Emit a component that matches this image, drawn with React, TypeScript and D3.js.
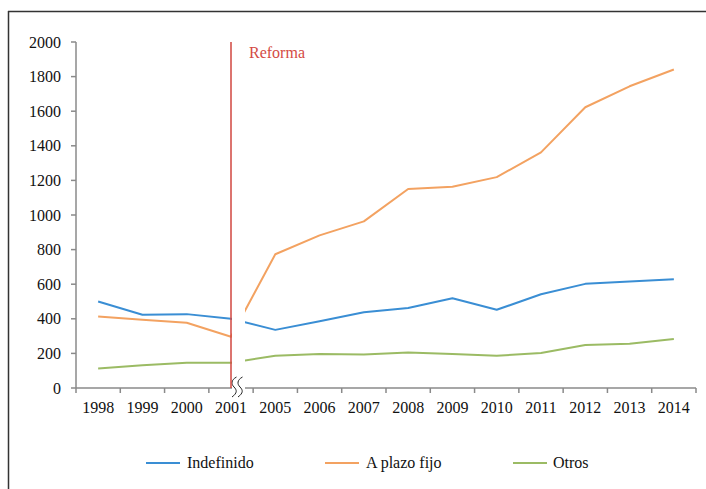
import React from "react";
import * as d3 from "d3";

const categories = ["1998", "1999", "2000", "2001", "2005", "2006", "2007", "2008", "2009", "2010", "2011", "2012", "2013", "2014"];
const indefinido = [500, 423, 427, 400, 336, 386, 438, 462, 519, 452, 542, 602, 615, 629];
const plazoFijo = [413, 394, 377, 296, 773, 882, 963, 1150, 1163, 1219, 1362, 1623, 1744, 1841];
const otros = [113, 131, 146, 146, 187, 196, 194, 205, 196, 186, 202, 248, 256, 283];
const yTicks = [0, 200, 400, 600, 800, 1000, 1200, 1400, 1600, 1800, 2000];
const seriesNames = ["Indefinido", "A plazo fijo", "Otros"];
const seriesColors = ["#3a8ed4", "#f3a261", "#9bbb64"];
const reformYear = "2001";

const W = 706;
const H = 489;
const FONT = "Liberation Serif, DejaVu Serif, Times New Roman, Times, serif";

export default function App() {
  const x = d3.scaleBand<string>().domain(categories).range([76, 696]).paddingInner(0).paddingOuter(0);
  const y = d3.scaleLinear().domain([0, 2000]).range([388, 42]);
  const cx = (c: string) => (x(c) as number) + x.bandwidth() / 2;
  const line = d3
    .line<number>()
    .x((_, i) => cx(categories[i]))
    .y((d) => y(d));
  const series = [indefinido, plazoFijo, otros];
  const rx = cx(reformYear);
  const gapX0 = rx + 1;
  const gapX1 = 245;
  const axisColor = "#8a8a8a";

  const squiggle = (sx: number) =>
    `M ${sx + 2.5} 377 C ${sx - 3} 380, ${sx - 3} 384, ${sx} 387 S ${sx + 3.5} 393, ${sx - 2} 397`;

  const legendItems = [
    { x: 146, tx: 187 },
    { x: 325, tx: 366 },
    { x: 513, tx: 553 },
  ];

  const textStyle = { fontFamily: FONT, fontSize: 16 };

  return (
    <svg width={W} height={H} style={{ position: "absolute", left: 0, top: 0, background: "#fff" }}>
      <rect x={0} y={0} width={W} height={H} fill="#fff" />
      {/* frame */}
      <line x1={8.5} y1={11} x2={8.5} y2={H} stroke="#333" strokeWidth={1.5} />
      <line x1={8} y1={11.5} x2={W} y2={11.5} stroke="#333" strokeWidth={1.5} />

      {/* y axis */}
      <line x1={76} y1={y(2000)} x2={76} y2={y(0)} stroke={axisColor} strokeWidth={1.5} />
      {yTicks.map((t) => (
        <g key={t}>
          <line x1={71} x2={76} y1={y(t)} y2={y(t)} stroke={axisColor} strokeWidth={1.5} />
          <text x={61} y={y(t)} dy="0.35em" textAnchor="end" style={textStyle} fill="#111">
            {t}
          </text>
        </g>
      ))}

      {/* x axis */}
      <line x1={76} y1={y(0)} x2={696} y2={y(0)} stroke={axisColor} strokeWidth={1.5} />
      {categories.map((c) => (
        <g key={c}>
          <line x1={x(c) as number} x2={x(c) as number} y1={y(0)} y2={y(0) + 5} stroke={axisColor} strokeWidth={1.5} />
          <text x={cx(c)} y={413} textAnchor="middle" style={textStyle} fill="#111">
            {c}
          </text>
        </g>
      ))}
      <line x1={696} x2={696} y1={y(0)} y2={y(0) + 5} stroke={axisColor} strokeWidth={1.5} />

      {/* series */}
      {series.map((s, i) => (
        <path key={i} d={line(s) || ""} fill="none" stroke={seriesColors[i]} strokeWidth={2} strokeLinejoin="round" />
      ))}

      {/* axis break gap */}
      <rect x={gapX0} y={40} width={gapX1 - gapX0} height={y(0) - 40 + 2} fill="#fff" />
      <path d={squiggle(234)} fill="none" stroke="#222" strokeWidth={1} />
      <path d={squiggle(240)} fill="none" stroke="#222" strokeWidth={1} />

      {/* reform line */}
      <line x1={rx} x2={rx} y1={y(2000)} y2={y(0)} stroke="#d0463f" strokeWidth={1.5} />
      <text x={249} y={58} style={textStyle} fill="#d44a44">
        Reforma
      </text>

      {/* legend */}
      {legendItems.map((l, i) => (
        <g key={i}>
          <line x1={l.x} x2={l.x + 34} y1={463} y2={463} stroke={seriesColors[i]} strokeWidth={2} />
          <text x={l.tx} y={468} style={textStyle} fill="#111">
            {seriesNames[i]}
          </text>
        </g>
      ))}
    </svg>
  );
}
